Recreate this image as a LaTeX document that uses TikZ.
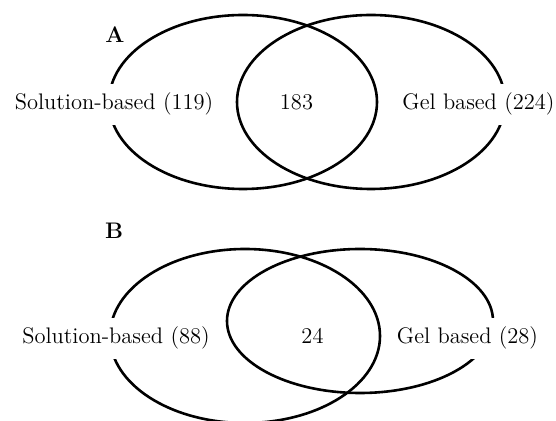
\documentclass[tikz,border=0pt]{standalone}
\usetikzlibrary{shapes}

\begin{document}
\begin{tikzpicture}[x=0.5pt,y=-0.5pt]
 \tikzset{set node/.style={ellipse, draw, line width=1.3pt,
 		inner sep=0pt}, }
 \tikzset{label node/.style={fill=white, inner xsep=2pt, inner ysep=4.5pt,
 		anchor=base, font=\fontsize{11.25}{13}\selectfont}, }
 \tikzset{count node/.style={anchor=base,
 		font=\fontsize{11.25}{13}\selectfont}, }
 \tikzset{panel node/.style={anchor=base,
 		font=\fontsize{11.25}{13}\selectfont\bfseries}, }
 \useasboundingbox (0,0) rectangle (556,421);
 % panel A
 \node[set node, minimum width=134pt, minimum height=87pt] (solA) at (243,102) {};
 \node[set node, minimum width=134pt, minimum height=87pt] (gelA) at (371,102) {};
 \node[panel node] (pA) at (115,43) {A};
 \node[label node] (solA text) at (114,110) {Solution-based (119)};
 \node[count node] (both A) at (296.5,110) {183};
 \node[label node] (gelA text) at (478.5,110) {Gel based (224)};
% panel B
 \node[set node, minimum width=135pt, minimum height=87pt] (solB) at (245,336) {};
 \node[set node, minimum width=133pt, minimum height=72pt] (gelB) at (360,321) {};
 \node[panel node] (pB) at (114,239) {B};
 \node[label node] (solB text) at (116,344) {Solution-based (88)};
 \node[count node] (both B) at (312.5,344) {24};
 \node[label node] (gelB text) at (467.5,344) {Gel based (28)};
 \end{tikzpicture}
\end{document}
